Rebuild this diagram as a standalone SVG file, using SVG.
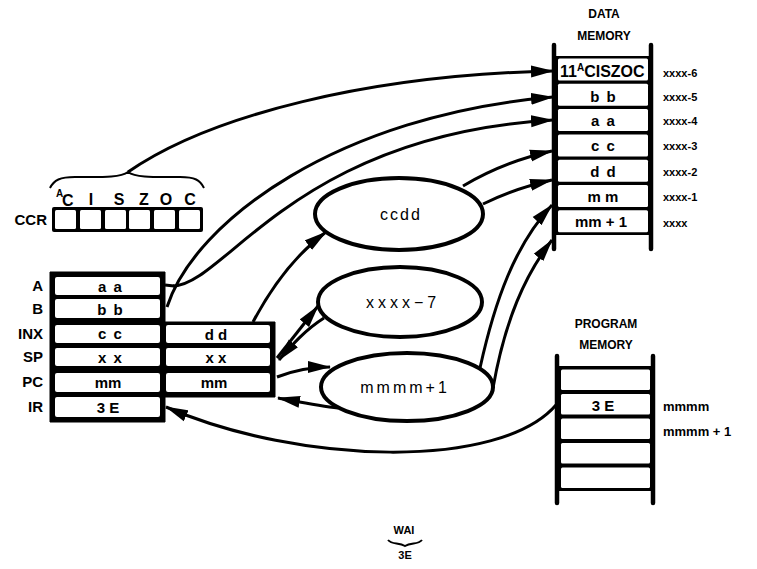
<svg xmlns="http://www.w3.org/2000/svg" width="757" height="569" viewBox="0 0 757 569">
<style>
text{font-family:"Liberation Sans",Arial,sans-serif;font-weight:bold;fill:#000}
.lbl{font-size:15px;text-anchor:end}
.cell{font-size:15px;text-anchor:middle}
.dm{font-size:15px;text-anchor:middle}
.addr{font-size:11px}
.hdr{font-size:12px;text-anchor:middle}
.ell{font-size:16px;text-anchor:middle;font-weight:normal}
.w{fill:#fff}
.conn path{fill:none;stroke:#000;stroke-width:3;marker-end:url(#ah)}
.conn path.na{marker-end:none}
.vl{stroke:#000;stroke-width:4.5;stroke-linecap:round}
ellipse{fill:#fff;stroke:#000;stroke-width:4}
</style>
<defs>
<marker id="ah" markerWidth="23" markerHeight="13" refX="22" refY="6.5" orient="auto" markerUnits="userSpaceOnUse">
<path d="M0,0.5 L23,6.5 L0,12.5 Z" fill="#000"/>
</marker>
</defs>
<rect width="757" height="569" fill="#fff"/>

<g id="ccr">
<text class="lbl" x="47" y="225">CCR</text>
<rect x="52" y="207" width="151" height="25" rx="2" fill="#000"/>
<rect class="w" x="55" y="210" width="21" height="19" rx="1.5"/>
<rect class="w" x="80" y="210" width="21" height="19" rx="1.5"/>
<rect class="w" x="105" y="210" width="21" height="19" rx="1.5"/>
<rect class="w" x="129" y="210" width="21" height="19" rx="1.5"/>
<rect class="w" x="154" y="210" width="21" height="19" rx="1.5"/>
<rect class="w" x="179" y="210" width="21" height="19" rx="1.5"/>
<text x="56" y="197" font-size="10" font-weight="normal">A</text>
<text x="62" y="206" font-size="16" font-weight="normal">C</text>
<text x="91" y="205" font-size="16" text-anchor="middle" font-weight="normal">I</text>
<text x="119" y="205" font-size="16" text-anchor="middle" font-weight="normal">S</text>
<text x="144" y="205" font-size="16" text-anchor="middle" font-weight="normal">Z</text>
<text x="166" y="205" font-size="16" text-anchor="middle" font-weight="normal">O</text>
<text x="190" y="205" font-size="16" text-anchor="middle" font-weight="normal">C</text>
<path d="M50,188 C54,180 60,177 75,177 C100,177 120,178 128,172 C136,178 156,177 180,177 C195,177 200,180 204,188" fill="none" stroke="#000" stroke-width="2"/>
</g>

<g id="registers">
<path d="M50,272 H165 V322 H275 V397 H165 V422 H50 Z" fill="#000" stroke="#000" stroke-width="1" stroke-linejoin="round"/>
<rect class="w" x="55" y="277" width="105" height="18" rx="2"/>
<rect class="w" x="55" y="299" width="105" height="19" rx="2"/>
<rect class="w" x="55" y="325" width="105" height="18" rx="2"/>
<rect class="w" x="55" y="348" width="105" height="18" rx="2"/>
<rect class="w" x="55" y="373" width="105" height="19" rx="2"/>
<rect class="w" x="55" y="397" width="105" height="20" rx="2"/>
<rect class="w" x="166" y="325" width="104" height="18" rx="2"/>
<rect class="w" x="166" y="348" width="104" height="18" rx="2"/>
<rect class="w" x="166" y="373" width="104" height="19" rx="2"/>
<text class="lbl" x="43" y="291">A</text>
<text class="lbl" x="43" y="314">B</text>
<text class="lbl" x="43" y="339">INX</text>
<text class="lbl" x="43" y="362">SP</text>
<text class="lbl" x="43" y="387">PC</text>
<text class="lbl" x="43" y="412">IR</text>
<text class="cell" x="110" y="292" word-spacing="3">a a</text>
<text class="cell" x="110" y="315" word-spacing="3">b b</text>
<text class="cell" x="110" y="339" word-spacing="3">c c</text>
<text class="cell" x="110" y="363" word-spacing="3">x x</text>
<text class="cell" x="108" y="388">mm</text>
<text class="cell" x="108" y="413">3 E</text>
<text class="cell" x="216" y="340">d d</text>
<text class="cell" x="216" y="363">x x</text>
<text class="cell" x="214" y="388">mm</text>
</g>

<g id="ellipse-ccdd">
<ellipse cx="399" cy="214" rx="84" ry="36"/>
<text class="ell" x="401" y="220" letter-spacing="2">ccdd</text>
</g>
<g id="ellipse-xxxx7">
<ellipse cx="400" cy="302" rx="82" ry="35"/>
<text class="ell" x="403" y="308" letter-spacing="4">xxxx−7</text>
</g>
<g id="ellipse-mmmm1">
<ellipse cx="407" cy="387" rx="86" ry="34"/>
<text class="ell" x="405" y="393" letter-spacing="3">mmmm+1</text>
</g>

<g id="data-memory">
<text class="hdr" x="604" y="18" font-size="13">DATA</text>
<text class="hdr" x="604" y="40">MEMORY</text>
<rect x="554" y="56" width="97" height="179" fill="#000"/>
<rect class="w" x="558" y="58.5" width="90" height="22" rx="1.5"/>
<rect class="w" x="558" y="83.8" width="90" height="22" rx="1.5"/>
<rect class="w" x="558" y="109.1" width="90" height="22" rx="1.5"/>
<rect class="w" x="558" y="134.4" width="90" height="22" rx="1.5"/>
<rect class="w" x="558" y="159.7" width="90" height="22" rx="1.5"/>
<rect class="w" x="558" y="185" width="90" height="22" rx="1.5"/>
<rect class="w" x="558" y="210.3" width="90" height="22" rx="1.5"/>
<line class="vl" x1="554" y1="45" x2="554" y2="249"/>
<line class="vl" x1="651" y1="45" x2="651" y2="249"/>
<text x="560" y="77" font-size="16" font-weight="normal">11<tspan font-size="10" dy="-6">A</tspan><tspan dy="6">CISZOC</tspan></text>
<text class="dm" x="603" y="102" word-spacing="3">b b</text>
<text class="dm" x="603" y="126" word-spacing="3">a a</text>
<text class="dm" x="603" y="151" word-spacing="3">c c</text>
<text class="dm" x="603" y="177" word-spacing="3">d d</text>
<text class="dm" x="603" y="202">m m</text>
<text class="dm" x="601" y="227">mm + 1</text>
<text class="addr" x="663" y="77">xxxx-6</text>
<text class="addr" x="663" y="101">xxxx-5</text>
<text class="addr" x="663" y="125">xxxx-4</text>
<text class="addr" x="663" y="150">xxxx-3</text>
<text class="addr" x="663" y="176">xxxx-2</text>
<text class="addr" x="663" y="201">xxxx-1</text>
<text class="addr" x="663" y="227">xxxx</text>
</g>

<g id="program-memory">
<text class="hdr" x="606" y="328">PROGRAM</text>
<text class="hdr" x="606" y="349">MEMORY</text>
<rect x="557" y="366" width="96" height="125" fill="#000"/>
<rect class="w" x="561" y="369.5" width="89" height="20.5" rx="1.5"/>
<rect class="w" x="561" y="394" width="89" height="20.5" rx="1.5"/>
<rect class="w" x="561" y="418.5" width="89" height="20.5" rx="1.5"/>
<rect class="w" x="561" y="443" width="89" height="20.5" rx="1.5"/>
<rect class="w" x="561" y="467.5" width="89" height="20.5" rx="1.5"/>
<line class="vl" x1="557" y1="356" x2="557" y2="503"/>
<line class="vl" x1="653" y1="356" x2="653" y2="503"/>
<text class="dm" x="603" y="411">3 E</text>
<text x="663" y="411" font-size="13">mmmm</text>
<text x="663" y="436" font-size="13">mmmm + 1</text>
</g>

<g id="wai">
<text x="404" y="534" font-size="11" text-anchor="middle">WAI</text>
<path d="M388,540 C392,545 399,542 405,546 C411,542 418,545 422,540" fill="none" stroke="#000" stroke-width="2"/>
<text x="405" y="559" font-size="11" text-anchor="middle">3E</text>
</g>

<g id="connectors" class="conn">
<path d="M128,172 C210,115 370,75 553,71"/>
<path d="M167,307 C195,220 340,115 553,97"/>
<path class="na" d="M165,285 L174,286"/>
<path d="M173,286 C225,285 295,135 553,120"/>
<path d="M253,322 C270,290 295,255 326,232"/>
<path d="M463,186 C490,170 520,158 552,151"/>
<path d="M483,204 C505,193 530,185 552,180"/>
<path d="M480,368 C495,300 515,245 552,205"/>
<path d="M493,388 C505,320 525,275 552,240"/>
<path d="M277,358 L318,306"/>
<path d="M324,318 C305,330 292,345 279,360"/>
<path d="M277,377 C295,370 310,367 330,367"/>
<path d="M338,408 C320,406 300,402 278,398"/>
<path d="M556,405 C500,470 300,465 166,407"/>
</g>
</svg>
